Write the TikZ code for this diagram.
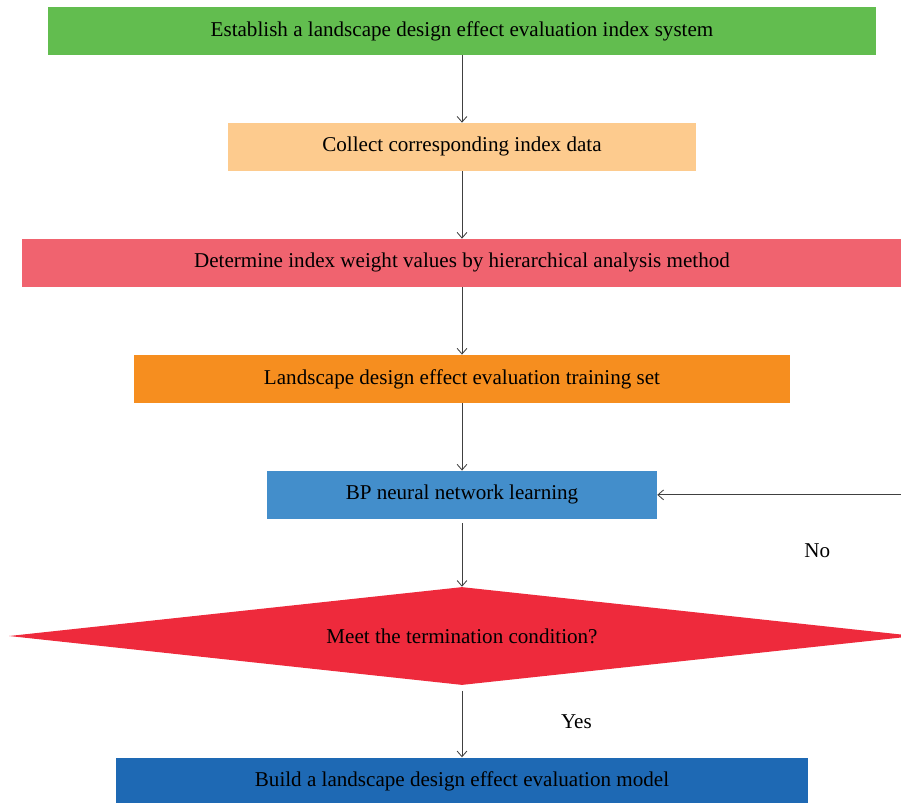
\documentclass[tikz,border=0pt]{standalone}
\usepackage{fontspec}
\setmainfont{Liberation Serif}
\usetikzlibrary{positioning, shapes.geometric, arrows.meta}
\definecolor{cgreen}{HTML}{62BD4F}
\definecolor{cpeach}{HTML}{FDCB8E}
\definecolor{cpink}{HTML}{F0636F}
\definecolor{corange}{HTML}{F68E1F}
\definecolor{cblue}{HTML}{438ECB}
\definecolor{cred}{HTML}{EE2A3C}
\definecolor{cdblue}{HTML}{1E69B4}
\definecolor{linegray}{HTML}{404040}
\tikzset{%
	box/.style={rectangle, minimum height=1.2cm, inner sep=0mm,%
		font=\fontsize{15}{18}\selectfont, node distance=1.685cm},
	cond/.style={diamond, aspect=9.2, minimum width=22.65cm, minimum height=2.45cm,%
		inner sep=0mm, fill=cred, font=\fontsize{15}{18}\selectfont},
	flow/.style={->, draw=linegray, line width=0.6pt},
	lbl/.style={font=\fontsize{15}{18}\selectfont}
}
\begin{document}
\begin{tikzpicture}[>={Straight Barb[length=4pt, width=7pt]}]
	\useasboundingbox (-11.55,0.775) rectangle (10.975,-19.3);
	\node[box, fill=cgreen, minimum width=20.7cm] (est) {Establish a landscape design effect evaluation index system};
	\node[box, fill=cpeach, minimum width=11.675cm, below=of est] (collect) {Collect corresponding index data};
	\node[box, fill=cpink, minimum width=22cm, below=of collect] (weight) {Determine index weight values by hierarchical analysis method};
	\node[box, fill=corange, minimum width=16.4cm, below=of weight] (train) {Landscape design effect evaluation training set};
	\node[box, fill=cblue, minimum width=9.75cm, below=of train] (bp) {BP neural network learning};
	\node[cond, below=1.69cm of bp] (meet) {Meet the termination condition?};
	\node[box, fill=cdblue, minimum width=17.3cm, below=1.8cm of meet] (build) {Build a landscape design effect evaluation model};

	\draw[flow] (est) to (collect);
	\draw[flow] (collect) to (weight);
	\draw[flow] (weight) to (train);
	\draw[flow] (train) to (bp);
	\draw[flow, shorten <=3pt] (bp) to (meet);
	\draw[flow, shorten <=4pt] (meet) to node[lbl, right=2.35cm]{Yes} (build);
	% loop back when the condition fails
	\draw[flow] (meet.east) |- node[lbl, pos=0.69, below=1.1cm]{No} (bp.east);
\end{tikzpicture}
\end{document}
